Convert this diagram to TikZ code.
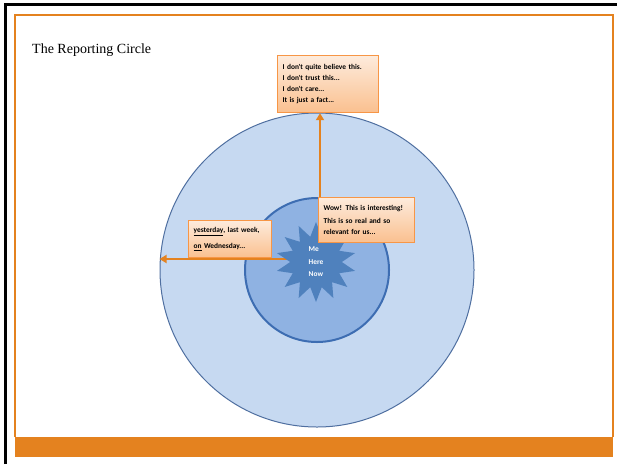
\documentclass[tikz,border=0pt]{standalone}
\usepackage{fontspec}
\setmainfont{Liberation Serif}
\newfontfamily\notefont{Carlito}
\usetikzlibrary{arrows.meta,positioning,shapes.geometric}
\definecolor{slideorange}{HTML}{E4821F}
\definecolor{outerblue}{HTML}{C6D9F1}
\definecolor{outeredge}{HTML}{4F6FA0}
\definecolor{innerblue}{HTML}{8FB2E2}
\definecolor{inneredge}{HTML}{3D6DB2}
\definecolor{starblue}{HTML}{4F81BD}
\definecolor{notetop}{HTML}{FDEBDC}
\definecolor{notebottom}{HTML}{FAC08F}
\definecolor{noteedge}{HTML}{F79646}
\pgfdeclarelayer{back}
\pgfdeclarelayer{mid}
\pgfsetlayers{back,mid,main}
\tikzset{
	note/.style={draw=noteedge,line width=1.2pt,top color=notetop,bottom color=notebottom,
		anchor=north west,align=left,inner sep=5pt,
		font=\notefont\bfseries\fontsize{7.4}{11}\selectfont},
	ring/.style={circle,inner sep=0pt},
	tell/.style={draw=slideorange,line width=2.2pt,-{Triangle[width=8pt,length=7pt]}},
	burst/.style={star,star points=14,star point ratio=1.55,fill=starblue,inner sep=0pt,
		minimum size=80pt,align=left,text=white,
		font=\notefont\bfseries\fontsize{7.4}{12.5}\selectfont}
}

\begin{document}
\begin{tikzpicture}[x=1pt,y=-1pt]
	\useasboundingbox (0,0) rectangle (617,464);
	% slide frame
	\draw[line width=2.5pt] (5.5,464) -- (5.5,4.5) -- (617,4.5);
	\draw[slideorange,line width=1.2pt] (15,437) -- (15,15) -- (613,15) -- (613,437);
	\fill[slideorange] (15,437) rectangle (613,457);
	\node[anchor=base west,inner sep=0pt,font=\fontsize{14}{16}\selectfont] (title) at (32,53) {The Reporting Circle};

	\begin{pgfonlayer}{back}
		\node[ring,fill=outerblue,draw=outeredge,line width=1pt,minimum size=314pt] (outer) at (317,270) {};
		\node[ring,fill=innerblue,draw=inneredge,line width=2pt,minimum size=144pt] (inner) at (317,270) {};
	\end{pgfonlayer}

	\coordinate (hub) at (320,259);
	\node[burst] (me) at (316,262) {Me\\Here\\Now};

	\node[note,text width=91pt,minimum height=57pt] (doubt) at (277,55)
		{I don't quite believe this.\\I don't trust this...\\I don't care...\\It is just a fact...};
	\node[note,text width=73pt,minimum height=37pt,font=\notefont\bfseries\fontsize{7.4}{16}\selectfont] (past) at (188,220)
		{\underline{yesterday}, last week,\\\underline{on} Wednesday...};
	\node[note,text width=86pt,minimum height=45pt] (wow) at (318,197)
		{Wow! This is interesting!\\[2pt]This is so real and so\\relevant for us...};

	\coordinate (edge) at (hub -| outer.west);
	\begin{pgfonlayer}{mid}
		\draw[tell] (hub) -- (hub |- doubt.south);
		\draw[tell] (hub) -- (edge);
	\end{pgfonlayer}
\end{tikzpicture}
\end{document}
